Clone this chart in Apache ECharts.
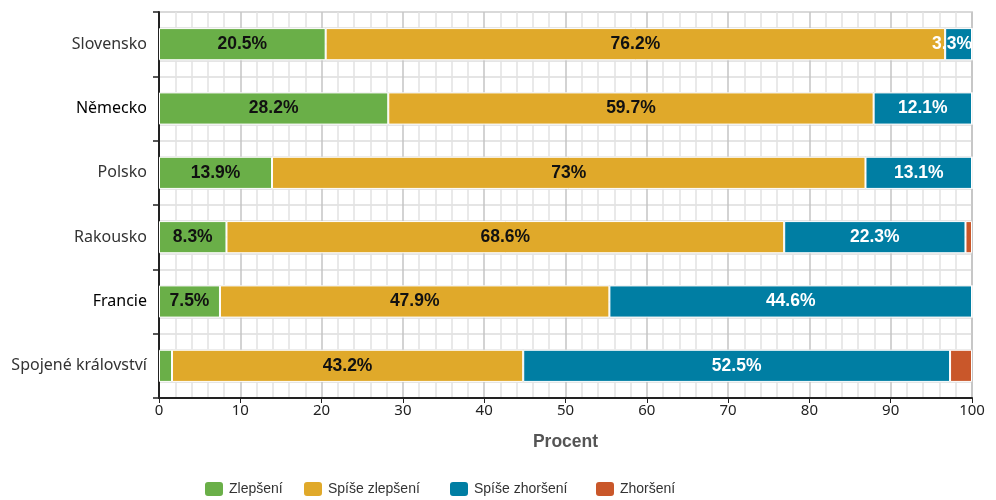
<!DOCTYPE html>
<html lang="cs">
<head>
    <meta charset="UTF-8">
    <title>Procent</title>
    <style>
        html, body { margin: 0; padding: 0; background: #fff; }
        #chart1 { width: 996px; height: 500px; }
    </style>
</head>
<body>
<div id="chart1"></div>
<script src="https://cdn.jsdelivr.net/npm/echarts@6/dist/echarts.min.js"></script>
<script type="text/javascript">
    // data
    var countries = ['Slovensko', 'Německo', 'Polsko', 'Rakousko', 'Francie', 'Spojené království'];
    var darkCountries = ['Německo', 'Francie'];
    var seriesNames = ['Zlepšení', 'Spíše zlepšení', 'Spíše zhoršení', 'Zhoršení'];
    var zlepseni = [20.5, 28.2, 13.9, 8.3, 7.5, 1.6];
    var spiseZlepseni = [76.2, 59.7, 73, 68.6, 47.9, 43.2];
    var spiseZhorseni = [3.3, 12.1, 13.1, 22.3, 44.6, 52.5];
    var zhorseni = [0, 0, 0, 0.8, 0, 2.7];
    var xTicks = [0, 10, 20, 30, 40, 50, 60, 70, 80, 90, 100];

    var colors = ['#6aaf48', '#e0a92a', '#007ea3', '#c9572a'];
    var labelColors = ['#111', '#111', '#fff', '#fff'];
    var allData = [zlepseni, spiseZlepseni, spiseZhorseni, zhorseni];
    var legendLeft = [203, 302, 448, 594];

    var chart1 = echarts.init(document.getElementById('chart1'));

    var series = seriesNames.map(function (name, i) {
        return {
            name: name,
            type: 'bar',
            stack: 'total',
            yAxisIndex: 0,
            barWidth: '50%',
            data: allData[i].map(function (v) {
                // narrow segment at the right edge: keep its label inside the plot
                if (v > 0 && v < 5) {
                    return {value: v, label: {position: 'insideRight', distance: 0}};
                }
                return v;
            }),
            itemStyle: {color: colors[i], borderColor: '#fff', borderWidth: 1},
            label: {
                show: true,
                position: 'inside',
                color: labelColors[i],
                fontFamily: 'Liberation Sans',
                fontWeight: 'bold',
                fontSize: 17.5,
                formatter: function (p) {
                    return p.value >= 3 ? p.value + '%' : '';
                }
            }
        };
    });

    var legends = seriesNames.map(function (name, i) {
        return {
            left: legendLeft[i],
            top: 480,
            padding: 0,
            icon: 'roundRect',
            itemWidth: 20,
            itemHeight: 16,
            itemGap: 10,
            textStyle: {fontFamily: 'Liberation Sans', fontSize: 14, color: '#333'},
            data: [name]
        };
    });

    chart1.setOption({
        animation: false,
        textStyle: {fontFamily: 'Noto Sans'},
        grid: {left: 159, right: 24, top: 12, bottom: 102, show: true, borderColor: '#c0c0c0', borderWidth: 1.5},
        legend: legends,
        xAxis: {
            type: 'value',
            min: xTicks[0],
            max: xTicks[xTicks.length - 1],
            interval: 10,
            name: 'Procent',
            nameLocation: 'middle',
            nameGap: 35,
            nameTextStyle: {fontFamily: 'Liberation Sans', fontWeight: 'bold', fontSize: 17.5, color: '#555'},
            axisLine: {show: true, lineStyle: {color: '#222', width: 2}},
            axisTick: {show: true, length: 5, lineStyle: {color: '#222'}},
            axisLabel: {fontSize: 15, color: '#222', margin: 5},
            splitLine: {show: true, lineStyle: {color: '#c4c4c4', width: 1.5}},
            minorTick: {show: false, splitNumber: 5},
            minorSplitLine: {show: true, lineStyle: {color: '#e2e2e2', width: 1.5}}
        },
        yAxis: [{
            type: 'category',
            data: countries,
            inverse: true,
            axisLine: {show: true, lineStyle: {color: '#222', width: 2}},
            axisTick: {show: true, length: 6, lineStyle: {color: '#222', width: 1.5}},
            axisLabel: {
                fontSize: 16,
                color: '#333',
                margin: 12,
                formatter: function (v) {
                    return darkCountries.indexOf(v) >= 0 ? '{d|' + v + '}' : v;
                },
                rich: {d: {fontSize: 16, color: '#000', fontFamily: 'Noto Sans'}}
            },
            splitLine: {show: false}
        }, {
            type: 'value',
            min: 0,
            max: countries.length * 4,
            interval: 1,
            show: true,
            position: 'right',
            axisLine: {show: false},
            axisTick: {show: false},
            axisLabel: {show: false},
            splitLine: {show: true, lineStyle: {color: '#dcdcdc', width: 1.5}}
        }],
        series: series
    });
</script>
</body>
</html>
